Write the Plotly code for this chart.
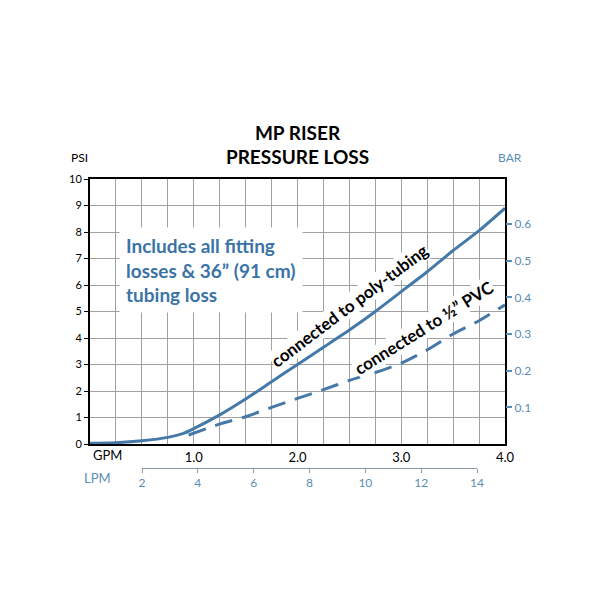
import plotly.graph_objects as go

# flow (GPM) and pressure loss (PSI)
gpm_poly = [0.0, 0.25, 0.5, 0.75, 0.9, 1.0, 1.25, 1.5, 1.75, 2.0, 2.25, 2.5, 2.75, 3.0, 3.25, 3.5, 3.75, 4.0]
psi_poly = [0.03, 0.05, 0.12, 0.25, 0.4, 0.58, 1.1, 1.7, 2.35, 3.0, 3.65, 4.3, 5.0, 5.75, 6.5, 7.3, 8.05, 8.9]

gpm_pvc = [0.95, 1.25, 1.5, 1.75, 2.0, 2.25, 2.5, 2.75, 3.0, 3.25, 3.5, 3.75, 4.0]
psi_pvc = [0.34, 0.75, 1.03, 1.38, 1.72, 2.05, 2.4, 2.7, 3.05, 3.55, 4.15, 4.65, 5.25]

gpm_ticks = [1, 2, 3, 4]
gpm_labels = ["1.0", "2.0", "3.0", "4.0"]
bar_ticks = [0.1, 0.2, 0.3, 0.4, 0.5, 0.6]
lpm_ticks = [2, 4, 6, 8, 10, 12, 14]

line_blue = "#4479a8"
text_blue = "#3b73a6"
axis_blue = "#5a8db5"
font = "Lato"

fig = go.Figure()
fig.add_trace(go.Scatter(x=gpm_poly, y=psi_poly, mode="lines", line=dict(color=line_blue, width=3, shape="spline", smoothing=0.5)))
fig.add_trace(go.Scatter(x=gpm_pvc, y=psi_pvc, mode="lines", line=dict(color=line_blue, width=3, dash="18px,10px", shape="spline", smoothing=0.5)))
# empty traces so the BAR and LPM axes get drawn
fig.add_trace(go.Scatter(x=[None], y=[None], yaxis="y2", hoverinfo="skip"))
fig.add_trace(go.Scatter(x=[None], y=[None], xaxis="x3", yaxis="y3", hoverinfo="skip"))

# page body adds 8px, so plot area sits at 82..497 x, 171..436 y
pw = 415
ph = 500 - 171
ydom0 = (500 - 436) / ph
lpm_pos = (500 - 460) / ph

fig.update_layout(
    width=600, height=600,
    margin=dict(l=82, r=600 - 82 - pw, t=171, b=100),
    paper_bgcolor="white", plot_bgcolor="white",
    showlegend=False,
    font=dict(family=font, color="black"),
    title=dict(text="<b>MP RISER<br>PRESSURE LOSS</b>", x=0.5, xanchor="center",
               xref="paper",
               yref="container", y=1 - 131.5 / 600, yanchor="middle",
               font=dict(size=19, family=font, color="black")),
    xaxis=dict(range=[0, 4], tickvals=gpm_ticks, ticktext=gpm_labels,
               showgrid=True, gridcolor="#a0a0a0", gridwidth=1,
               minor=dict(dtick=0.25, showgrid=True, gridcolor="#a0a0a0", gridwidth=1),
               showline=True, linecolor="black", linewidth=2, mirror=True,
               ticks="", tickfont=dict(size=13, color="black"), zeroline=False,
               anchor="y"),
    yaxis=dict(range=[0, 10], dtick=1, domain=[ydom0, 1],
               showgrid=True, gridcolor="#a0a0a0", gridwidth=1,
               showline=True, linecolor="black", linewidth=2, mirror=True,
               ticks="outside", ticklen=4, tickcolor="black",
               tickfont=dict(size=11, color="black"), zeroline=False),
    yaxis2=dict(range=[0, 10 / 13.83], overlaying="y", side="right", anchor="x",
                tickvals=bar_ticks, ticktext=[f"{v:.1f}" for v in bar_ticks],
                ticks="outside", ticklen=6, tickcolor=axis_blue, tickwidth=2,
                tickfont=dict(size=12, color=axis_blue), showgrid=False,
                showline=False, zeroline=False),
    # LPM scale lives in its own strip under the plot
    yaxis3=dict(domain=[lpm_pos, ydom0 - 0.01], visible=False, anchor="x3"),
    xaxis3=dict(range=[2, 14], tickvals=lpm_ticks, domain=[(142 - 90) / pw, (477 - 90) / pw],
                anchor="y3", side="bottom",
                showline=True, linecolor="#8c9aa6", linewidth=1,
                ticks="outside", ticklen=4, tickcolor="#8c9aa6",
                tickfont=dict(size=12, color=axis_blue), showgrid=False, zeroline=False),
)

# unit labels
fig.add_annotation(text="PSI", xref="paper", yref="paper", x=-0.025, y=1.0, yshift=22,
                   showarrow=False, xanchor="center", yanchor="middle", font=dict(size=12, color="black"))
fig.add_annotation(text="BAR", xref="paper", yref="paper", x=1.012, y=1.0, yshift=22,
                   showarrow=False, xanchor="center", yanchor="middle", font=dict(size=12, color=axis_blue))
fig.add_annotation(text="GPM", xref="paper", yref="paper", x=0.041, y=ydom0, yshift=-11,
                   showarrow=False, xanchor="center", yanchor="middle", font=dict(size=13, color="black"))
fig.add_annotation(text="LPM", xref="paper", yref="paper", x=0.017, y=ydom0, yshift=-34,
                   showarrow=False, xanchor="center", yanchor="middle", font=dict(size=13, color=axis_blue))

fig.add_annotation(text="<b>Includes all fitting<br>losses &amp; 36\u201d (91 cm)<br>tubing loss</b>",
                   x=0.28, y=6.55, xref="x", yref="y", xanchor="left", yanchor="middle",
                   align="left", showarrow=False, bgcolor="white", borderpad=6,
                   font=dict(size=19, color=text_blue, family=font))

fig.add_annotation(text="<b>connected to poly-tubing</b>", x=2.5, y=5.22, xref="x", yref="y",
                   textangle=-37, showarrow=False, bgcolor="white", borderpad=0,
                   font=dict(size=17, color="black", family=font))
fig.add_annotation(text="<b>connected to \u00bd\u201d PVC</b>", x=3.22, y=4.38, xref="x", yref="y",
                   textangle=-32, showarrow=False, bgcolor="white", borderpad=0,
                   font=dict(size=17, color="black", family=font))

fig.write_html("out.html")
